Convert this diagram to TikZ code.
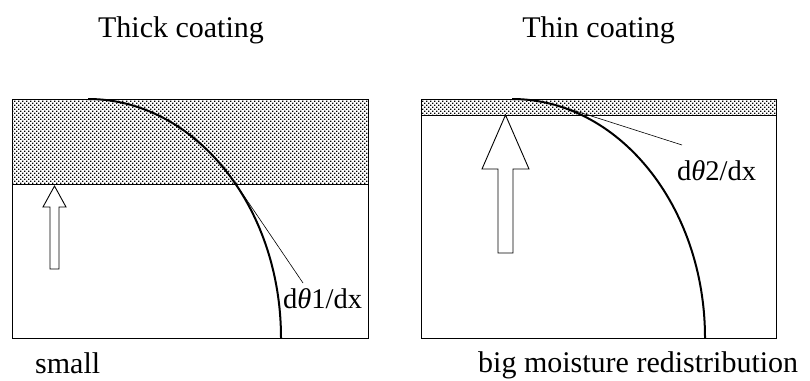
\documentclass[tikz,border=0pt]{standalone}
\usepackage{fontspec}
\setmainfont{Liberation Serif}
\usetikzlibrary{patterns}

% fine stipple used for the coating layer
\pgfdeclarepatternformonly{stipple}{\pgfqpoint{-0.5pt}{-0.5pt}}{\pgfqpoint{4.5pt}{4.5pt}}{\pgfqpoint{4pt}{4pt}}{%
  \pgfpathrectangle{\pgfqpoint{0pt}{0pt}}{\pgfqpoint{1.3pt}{1.3pt}}%
  \pgfpathrectangle{\pgfqpoint{2pt}{2pt}}{\pgfqpoint{1.3pt}{1.3pt}}%
  \pgfusepath{fill}}

\begin{document}
\begin{tikzpicture}[x=1pt, y=-1pt]
  \tikzset{
    frame/.style={draw=black, line width=1pt},
    coat/.style={pattern=stipple, pattern color=black},
    profile/.style={draw=black, line width=2pt},
    tangent/.style={draw=black, line width=0.6pt},
    flux/.style={draw=black, line width=0.9pt, fill=white, line join=miter},
    title/.style={anchor=base, font=\fontsize{30}{36}\selectfont},
    remark/.style={anchor=base west, font=\fontsize{30}{36}\selectfont},
    slope/.style={anchor=base west, font=\fontsize{28.5}{33}\selectfont, inner sep=0pt}
  }
  \useasboundingbox (0,0) rectangle (810,380);

  % left panel: thick coating
  \fill[coat] (12,99) rectangle (368,184);
  \draw[frame] (12,99) rectangle (368,338);
  \draw[frame] (12,184) -- (368,184);
  \draw[profile] (88,99) .. controls (194.6,99) and (281,206) .. (281,338);
  \coordinate (t1a) at (240,190);
  \node[slope] (slope1) at (283,308) {d{\itshape θ}1/dx};
  \draw[tangent] (t1a) -- (303,283);
  \draw[flux] (50,269) -- (50,207) -- (43,207) -- (54.5,186) -- (66,207)
    -- (59,207) -- (59,269) -- cycle;
  \node[title] (thick) at (181,37) {Thick coating};
  \node[remark, inner sep=0pt] (small) at (35,373) {small};

  % right panel: thin coating
  \fill[coat] (421,99) rectangle (776,115);
  \draw[frame] (421,99) rectangle (776,338);
  \draw[frame] (421,115) -- (776,115);
  \draw[profile] (512,99) .. controls (618.6,99) and (705,206) .. (705,338);
  \coordinate (t2a) at (560,106);
  \node[slope] (slope2) at (677,180) {d{\itshape θ}2/dx};
  \draw[tangent] (t2a) -- (682,145);
  \draw[flux] (498,253) -- (498,169) -- (482,169) -- (505.5,115) -- (529,169)
    -- (513,169) -- (513,253) -- cycle;
  \node[title] (thin) at (598.5,37) {Thin coating};
  \node[remark, inner sep=0pt] (big) at (478,372) {big moisture redistribution};
\end{tikzpicture}
\end{document}
